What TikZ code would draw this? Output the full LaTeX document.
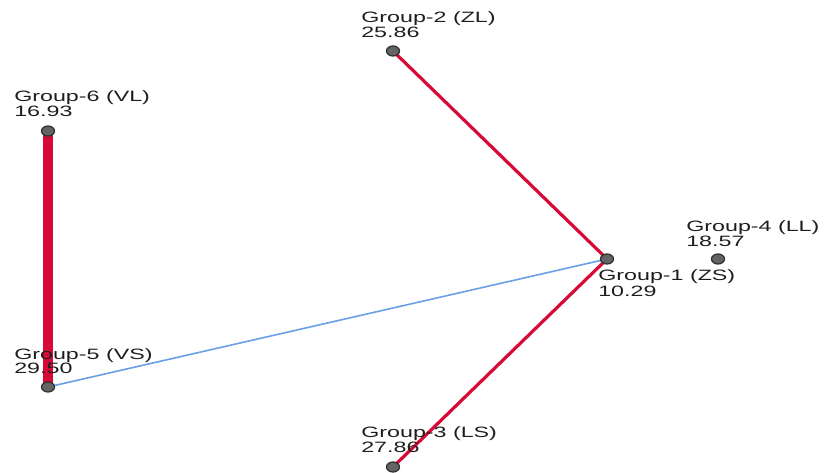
\documentclass[tikz,border=0pt]{standalone}
\usepackage{fontspec}
\setmainfont{Liberation Sans}
\usetikzlibrary{shapes.geometric,backgrounds}
\definecolor{edgered}{RGB}{215,10,55}
\definecolor{edgeblue}{RGB}{105,160,230}
\definecolor{dotfill}{RGB}{100,100,100}
\definecolor{dotline}{RGB}{50,50,50}
\definecolor{txt}{RGB}{30,30,30}
\tikzset{
  dot/.style={ellipse, draw=dotline, fill=dotfill, line width=1.3pt, minimum width=13pt, minimum height=10pt, inner sep=0pt},
  lbl/.style={anchor=base west, inner sep=0pt, font=\fontsize{15}{15}\selectfont, text=txt, xscale=1.55, transform shape},
  redthin/.style={draw=edgered, line width=3.2pt},
  redthick/.style={draw=edgered, line width=10pt},
  blueln/.style={draw=edgeblue, line width=1.6pt}
}
\begin{document}
\begin{tikzpicture}[x=1pt,y=1pt]
\useasboundingbox (0,0) rectangle (824,473);
% nodes (y = 473 - pixel y)
\node[dot] (g2) at (393,422) {};
\node[dot] (g6) at (48,342) {};
\node[dot] (g5) at (48,86) {};
\node[dot] (g3) at (393,6) {};
\node[dot] (g1) at (607,214) {};
\node[dot] (g4) at (718,214) {};
% connectors
\begin{scope}[on background layer]
\draw[redthin] (g2.center) -- (g1.center);
\draw[redthin] (g3.center) -- (g1.center);
\draw[redthick] (g6.center) -- (g5.center);
\draw[blueln] (g5.center) -- (g1.center);
\end{scope}
% labels
\node[lbl] (g2a) at (361,450.5) {Group-2 (ZL)};
\node[lbl] (g2b) at (361,435.5) {25.86};
\node[lbl] (g6a) at (14,371.5) {Group-6 (VL)};
\node[lbl] (g6b) at (14,356.5) {16.93};
\node[lbl] (g5a) at (14,113) {Group-5 (VS)};
\node[lbl] (g5b) at (14,99) {29.50};
\node[lbl] (g3a) at (361,35) {Group-3 (LS)};
\node[lbl] (g3b) at (361,20) {27.86};
\node[lbl] (g1a) at (598,192) {Group-1 (ZS)};
\node[lbl] (g1b) at (598,176.5) {10.29};
\node[lbl] (g4a) at (686,241.5) {Group-4 (LL)};
\node[lbl] (g4b) at (686,226.5) {18.57};
\end{tikzpicture}
\end{document}
